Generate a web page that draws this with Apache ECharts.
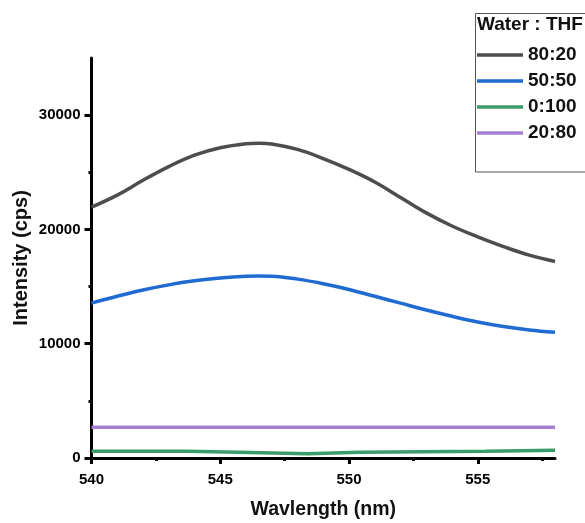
<!DOCTYPE html>
<html>
<head>
<meta charset="utf-8">
<script src="https://cdn.jsdelivr.net/npm/echarts@6/dist/echarts.min.js"></script>
<style>
  html, body { margin: 0; padding: 0; background: #ffffff; }
  #chart { width: 585px; height: 523px; }
</style>
</head>
<body>
<div id="chart"></div>
<script>
// Emission spectra in water : THF mixtures
const seriesNames = ['80:20', '50:50', '0:100', '20:80'];

const wavelengthSmooth = [540, 541, 542, 543, 544, 545, 546, 546.5, 547, 548, 549, 550, 551, 552, 553, 554, 555, 556, 557, 558];
const intensity8020 = [21950, 23000, 24300, 25500, 26500, 27150, 27500, 27550, 27480, 27000, 26200, 25250, 24150, 22800, 21450, 20300, 19350, 18500, 17750, 17200];
const intensity5050 = [13550, 14150, 14700, 15150, 15500, 15750, 15900, 15920, 15900, 15650, 15250, 14750, 14150, 13550, 12950, 12400, 11900, 11500, 11200, 11000];

// 0:100 trace is recorded as flat segments
const wavelength0100 = [540, 543.7, 543.7, 545.7, 545.7, 548.4, 548.4, 550.4, 550.4, 555.3, 555.3, 558];
const intensity0100 = [580, 580, 500, 500, 380, 380, 500, 500, 580, 580, 670, 670];

const wavelength2080 = [540, 545, 550, 555, 558];
const intensity2080 = [2700, 2700, 2700, 2700, 2700];

const xMajorTicks = [540, 545, 550, 555];
const xMinorTicks = [542.5, 547.5, 552.5, 557.5];
const yMajorTicks = [0, 10000, 20000, 30000];
const yMinorTicks = [5000, 15000, 25000];

const colors = ['#4d4d4d', '#1f6bd2', '#3b9c6b', '#a580d2'];
const font = '"Liberation Sans", Arial, sans-serif';

function pairs(xs, ys) { return xs.map((x, i) => [x, ys[i]]); }

const chart = echarts.init(document.getElementById('chart'), null, { renderer: 'canvas' });

const baseX = { type: 'value', min: 540, max: 558, position: 'bottom', splitLine: { show: false } };
const baseY = { type: 'value', min: 0, max: 35000, position: 'left', splitLine: { show: false } };

chart.setOption({
  backgroundColor: '#ffffff',
  animation: false,
  grid: { left: 91.5, right: 30, top: 58, bottom: 65, outerBoundsMode: 'none', containLabel: false },
  xAxis: [
    Object.assign({}, baseX, {
      interval: 5,
      name: 'Wavlength (nm)',
      nameLocation: 'middle',
      nameGap: 42,
      nameMoveOverlap: false,
      nameTextStyle: { color: '#111', fontFamily: font, fontWeight: 'bold', fontSize: 19.5 },
      axisLine: { show: true, onZero: false, lineStyle: { color: '#000', width: 3 } },
      axisTick: { show: true, length: 6, customValues: xMajorTicks, lineStyle: { color: '#000', width: 3 } },
      axisLabel: { customValues: xMajorTicks, margin: 14, color: '#000', fontFamily: font, fontWeight: 'bold', fontSize: 15,
        formatter: v => String(v) }
    }),
    Object.assign({}, baseX, {
      axisLine: { show: false, onZero: false },
      axisTick: { show: true, length: 3, customValues: xMinorTicks, lineStyle: { color: '#000', width: 3 } },
      axisLabel: { show: false }
    })
  ],
  yAxis: [
    Object.assign({}, baseY, {
      interval: 10000,
      name: 'Intensity (cps)',
      nameLocation: 'middle',
      nameGap: 60,
      nameMoveOverlap: false,
      nameTextStyle: { color: '#111', fontFamily: font, fontWeight: 'bold', fontSize: 20 },
      axisLine: { show: true, onZero: false, lineStyle: { color: '#000', width: 3 } },
      axisTick: { show: true, length: 7, customValues: yMajorTicks, lineStyle: { color: '#000', width: 3 } },
      axisLabel: { customValues: yMajorTicks, margin: 11, color: '#000', fontFamily: font, fontWeight: 'bold', fontSize: 15,
        formatter: v => String(v) }
    }),
    Object.assign({}, baseY, {
      axisLine: { show: false, onZero: false },
      axisTick: { show: true, length: 3, customValues: yMinorTicks, lineStyle: { color: '#000', width: 3 } },
      axisLabel: { show: false }
    })
  ],
  legend: {
    data: seriesNames,
    orient: 'vertical',
    left: 477,
    top: 42,
    padding: 0,
    itemGap: 0,
    itemWidth: 46,
    itemHeight: 3.5,
    icon: 'rect',
    selectedMode: false,
    textStyle: { color: '#111', fontFamily: font, fontWeight: 'bold', fontSize: 19, lineHeight: 26 }
  },
  graphic: [
    {
      type: 'rect',
      shape: { x: 475.5, y: 13.5, width: 200, height: 158.5 },
      style: { fill: '#ffffff', stroke: '#555555', lineWidth: 1 },
      z: -1
    },
    {
      type: 'text',
      x: 477,
      y: 25,
      style: { text: 'Water : THF', fill: '#111', font: 'bold 19px ' + font, textVerticalAlign: 'middle' }
    }
  ],
  series: [
    { name: seriesNames[0], type: 'line', smooth: 0.4, showSymbol: false, color: colors[0],
      lineStyle: { width: 3.5 }, data: pairs(wavelengthSmooth, intensity8020) },
    { name: seriesNames[1], type: 'line', smooth: 0.4, showSymbol: false, color: colors[1],
      lineStyle: { width: 3.5 }, data: pairs(wavelengthSmooth, intensity5050) },
    { name: seriesNames[2], type: 'line', showSymbol: false, color: colors[2],
      lineStyle: { width: 3.5 }, data: pairs(wavelength0100, intensity0100) },
    { name: seriesNames[3], type: 'line', showSymbol: false, color: colors[3],
      lineStyle: { width: 3.5 }, data: pairs(wavelength2080, intensity2080) }
  ]
});
</script>
</body>
</html>
